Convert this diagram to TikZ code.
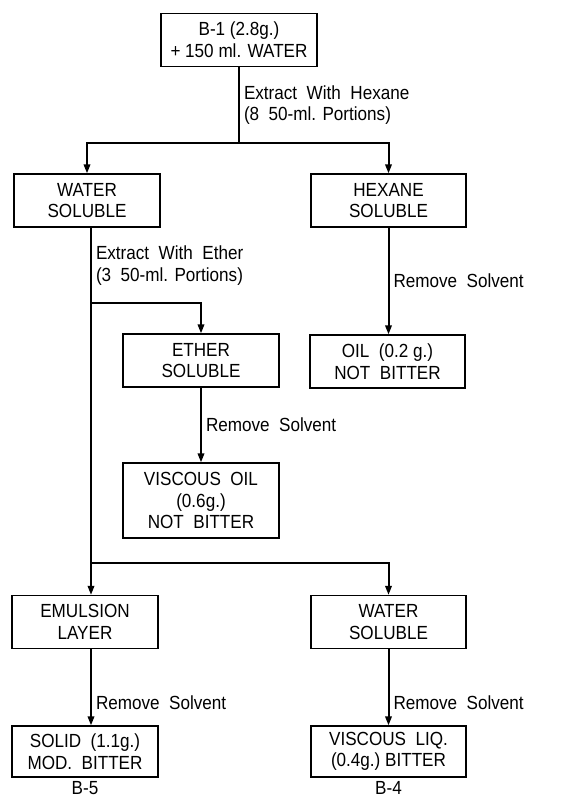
\documentclass[tikz,border=0pt]{standalone}
\usepackage{fontspec}
\setmainfont{Liberation Sans}[FakeStretch=0.9]
\usetikzlibrary{arrows.meta}
\tikzset{
  box/.style={draw,line width=0.6pt,align=center,inner sep=2pt,minimum height=26.5pt,font=\fontsize{9.5}{10.8}\selectfont},
  lab/.style={align=left,inner sep=2pt,font=\fontsize{9.5}{10.8}\selectfont},
  flow/.style={line width=1pt},
  arr/.style={flow,-{Triangle[length=4.5pt,width=3.2pt]}},
}

\begin{document}
\begin{tikzpicture}[x=0.5pt,y=-0.5pt]
\useasboundingbox (0,0) rectangle (561,798);
% boxes
\node[box,minimum width=78pt] (b1) at (239,40) {B-1 (2.8g.)\\+ 150 ml. WATER};
\node[box,minimum width=73pt] (ws1) at (87,200.5) {WATER\\SOLUBLE};
\node[box,minimum width=77.5pt] (hs) at (388.5,200.5) {HEXANE\\SOLUBLE};
\node[box,minimum width=78pt] (es) at (201,360.5) {ETHER\\SOLUBLE};
\node[box,minimum width=77.5pt] (oil) at (387.5,361.5) {OIL\ \ (0.2 g.)\\NOT\ \ BITTER};
\node[box,minimum width=78pt,minimum height=37.5pt] (voil) at (201,500.5) {VISCOUS\ \ OIL\\(0.6g.)\\NOT\ \ BITTER};
\node[box,minimum width=73pt] (em) at (85,622) {EMULSION\\LAYER};
\node[box,minimum width=77.5pt] (ws2) at (388.5,622) {WATER\\SOLUBLE};
\node[box,minimum width=73pt,minimum height=25.5pt] (solid) at (85,751.5) {SOLID\ \ (1.1g.)\\MOD.\ \ BITTER};
\node[box,minimum width=77.5pt,minimum height=25.5pt] (vliq) at (388.5,751.5) {VISCOUS\ \ LIQ.\\(0.4g.)\ BITTER};
\node[lab] (b5) at (85,788) {B-5};
\node[lab] (b4) at (388.5,788) {B-4};
% branch points
\coordinate (j1) at (239,143);
\coordinate (j2) at (91,303);
\coordinate (j3) at (91,563);
% connectors
\draw[flow] (b1.south) -- node[lab,right] {Extract\ \ With\ \ Hexane\\(8\ \ 50-ml. Portions)} (j1);
\draw[arr] (j1) -| (ws1.north);
\draw[arr] (j1) -| (hs.north);
\draw[flow] (ws1.south -| j2) -- node[lab,right] {Extract\ \ With\ \ Ether\\(3\ \ 50-ml. Portions)} (j2);
\draw[arr] (j2) -| (es.north);
\draw[flow] (j2) -- (j3);
\draw[arr] (j3) -- (j3 |- em.north);
\draw[arr] (j3) -| (ws2.north);
\draw[arr] (hs.south) -- node[lab,right,pos=0.5] {Remove\ \ Solvent} (hs.south |- oil.north);
\draw[arr] (es.south) -- node[lab,right] {Remove\ \ Solvent} (voil.north);
\draw[arr] (em.south -| j3) -- node[lab,right,pos=0.7] {Remove\ \ Solvent} (solid.north -| j3);
\draw[arr] (ws2.south) -- node[lab,right,pos=0.7] {Remove\ \ Solvent} (vliq.north);
\end{tikzpicture}
\end{document}
